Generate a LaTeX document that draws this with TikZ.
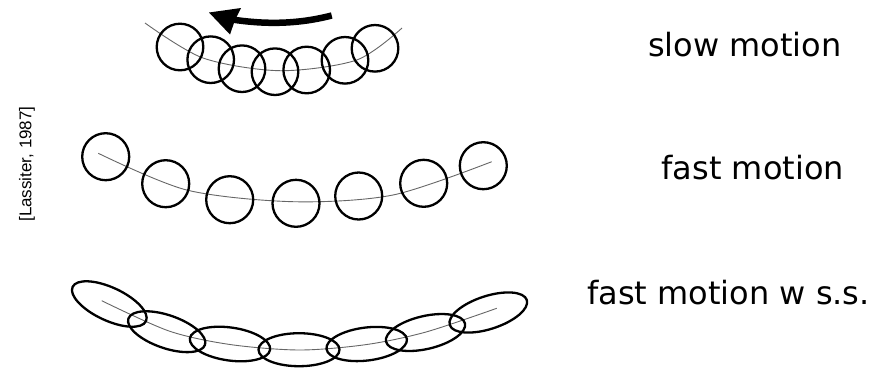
\documentclass[tikz,border=0pt]{standalone}
\usepackage{fontspec}
\setmainfont{DejaVu Sans}
\newfontfamily\citefont{Liberation Sans}
\begin{document}
\begin{tikzpicture}[x=1pt,y=-1pt,
  ring/.style={draw=black,line width=2.3pt},
  track/.style={draw=black!60,line width=0.9pt},
  label/.style={anchor=base west,inner sep=0pt,font=\fontsize{32}{36}\selectfont}]
\useasboundingbox (0,0) rectangle (890,368);
% ---------- slow motion ----------
\draw[track] plot[smooth] coordinates {(145,23) (203,58) (280,70.7) (356.7,60) (402,28)};
\foreach \cx/\cy in {180/47,210.7/59.7,242/68.7,275/71.7,306.7/70,345/60.3,375/48.3}
  \draw[ring] (\cx,\cy) circle[radius=23.3];
% arrow
\draw[line width=6.5pt] (331.7,15.5) .. controls (295,25) and (262,24) .. (232,19.5);
\fill (209,12.5) -- (241,8) -- (235,20) -- (230,34.5) -- cycle;
% ---------- fast motion ----------
\draw[track] plot[smooth] coordinates {(98.3,153.3) (186.7,190) (293.3,201.7) (393,195) (491.7,161.7)};
\foreach \cx/\cy in {105.7/156.7,165.7/183.7,229.7/199.7,296/203.3,358.7/196,423.7/183.3,483.3/165.7}
  \draw[ring] (\cx,\cy) circle[radius=23.5];
% ---------- fast motion with s.s. ----------
\draw[track] plot[smooth] coordinates {(101.7,300.7) (169,331) (230,344.5) (300,350) (366.7,344.5) (426,332) (496.7,308.3)};
\foreach \cx/\cy/\ang in {109.3/304/-25,166.7/331.7/-19,230/344/-8,299/349.7/0,366.7/344/7,425.5/332.5/13,488.3/312.5/18}
  \draw[ring,rotate around={\ang:(\cx,\cy)}] (\cx,\cy) ellipse[x radius=40.5,y radius=16.5];
% ---------- labels ----------
\node[label] (l1) at (648,56) {slow motion};
\node[label] (l2) at (661.5,179) {fast motion};
\node[label] (l3) at (587,304) {fast motion w s.s.};
\node[rotate=90,inner sep=0pt,font=\citefont\fontsize{17}{20}\selectfont] (cite) at (27,164) {[Lassiter, 1987]};
\end{tikzpicture}
\end{document}
